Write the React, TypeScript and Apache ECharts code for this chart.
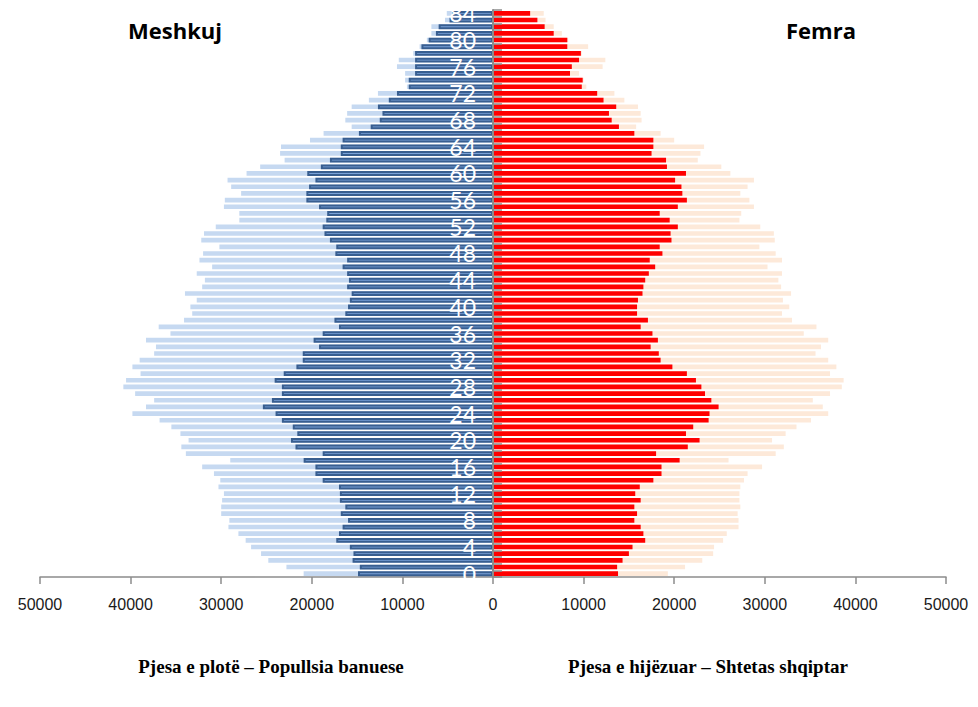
import React, { useEffect, useRef } from "react";
import * as echarts from "echarts";

const ages: string[] = Array.from({ length: 85 }, (_, i) => String(i));

const maleResident = [
  14900, 14700, 15500, 15400, 15800, 17300, 17000, 16600, 16000, 16800,
  16300, 16900, 16900, 17000, 18800, 19600, 19600, 20900, 18800, 21800,
  22300, 21600, 22100, 23300, 24000, 25400, 24400, 23300, 23300, 24100,
  23100, 21700, 21000, 21000, 19200, 19800, 18800, 17000, 17500, 16300,
  16000, 15800, 15600, 16100, 15900, 16100, 16600, 16100, 17400, 17300,
  18000, 18600, 18800, 18400, 18300, 19200, 20600, 20600, 20300, 19600,
  20500, 19000, 18000, 16800, 16800, 16600, 14800, 13500, 12500, 12200,
  12700, 11500, 10600, 9300, 9300, 8600, 8600, 8600, 8600, 7900,
  7100, 6300, 6000, 4800, 4500,
];

const maleCitizens = [
  20900, 22800, 24800, 25600, 26700, 27300, 28100, 29200, 29100, 30000,
  30000, 29900, 29700, 30300, 30100, 30800, 32100, 29000, 33900, 34400,
  33600, 34500, 35500, 36800, 39800, 38300, 37400, 39500, 40800, 40500,
  38900, 39800, 39000, 37400, 37200, 38300, 35600, 36900, 34100, 33200,
  33400, 32700, 34000, 32100, 31800, 32700, 31000, 32400, 32000, 30200,
  32200, 31900, 30600, 28000, 28000, 29700, 29600, 27800, 28900, 29300,
  27200, 25700, 23000, 23500, 23400, 20200, 18700, 15600, 16300, 16100,
  15600, 13700, 12700, 9500, 9700, 9700, 10600, 10400, 8800, 8100,
  7300, 6800, 6800, 5300, 5100,
];

const femaleResident = [
  13800, 13700, 14300, 15000, 15400, 16800, 16600, 16300, 15600, 15900,
  15600, 16300, 15700, 16200, 17700, 18600, 18600, 20600, 18000, 21500,
  22800, 21300, 22100, 23800, 23900, 24900, 24100, 23400, 23000, 22400,
  21400, 19800, 18500, 18300, 17400, 18200, 17600, 16300, 17100, 15900,
  15900, 16000, 16500, 16600, 16800, 17200, 17900, 17300, 18700, 18400,
  19700, 19600, 20400, 19500, 18400, 20400, 21400, 20900, 20800, 20100,
  21300, 19200, 19100, 17500, 17700, 17700, 15600, 13900, 13100, 12800,
  13600, 12200, 11500, 9800, 9900, 8500, 8700, 9500, 9700, 8200,
  8200, 6700, 5700, 4900, 4100,
];

const femaleCitizens = [
  19300, 21200, 23100, 24300, 24400, 25400, 25800, 27100, 27100, 27000,
  27300, 27200, 27200, 27300, 27700, 28100, 29700, 26000, 31200, 32100,
  30800, 32300, 33500, 35100, 37000, 36400, 35300, 37200, 38500, 38700,
  37200, 37900, 37000, 35600, 36200, 37000, 34300, 35700, 33000, 31900,
  32700, 32000, 32900, 31800, 31500, 31900, 30300, 31900, 31200, 29400,
  31100, 31000, 29500, 27200, 27400, 28800, 28300, 27300, 28100, 28800,
  26200, 25200, 22600, 22900, 23300, 20000, 18500, 15800, 16400, 16300,
  16000, 14500, 13400, 10300, 10000, 9500, 12100, 12400, 9800, 10500,
  8300, 7600, 6700, 5800, 5600,
];

const titleLeft = "Meshkuj";
const titleRight = "Femra";
const captionLeft = "Pjesa e plotë – Popullsia banuese";
const captionRight = "Pjesa e hijëzuar – Shtetas shqiptar";

const W = 978;
const H = 707;
const GRID_LEFT = 40;
const GRID_RIGHT = 32;

export default function App() {
  const ref = useRef<HTMLDivElement>(null);
  useEffect(() => {
    document.body.style.margin = "0";
    if (!ref.current) return;
    const chart = echarts.init(ref.current, null, { renderer: "svg" });
    const neg = (a: number[]) => a.map((v) => -v);
    const plotW = W - GRID_LEFT - GRID_RIGHT;
    chart.setOption({
      animation: false,
      grid: { left: GRID_LEFT, right: GRID_RIGHT, top: 10, bottom: 130, containLabel: false },
      xAxis: {
        type: "value",
        min: -50000,
        max: 50000,
        interval: 10000,
        splitLine: { show: false },
        axisLine: { show: true, lineStyle: { color: "#8c8c8c", width: 1.5 } },
        axisTick: { show: true, length: 7, lineStyle: { color: "#8c8c8c", width: 1.5 } },
        axisLabel: {
          formatter: (v: number) => String(Math.abs(v)),
          color: "#1a1a1a",
          fontSize: 16,
          fontFamily: "Liberation Sans",
          margin: 19,
        },
      },
      yAxis: {
        type: "category",
        data: ages,
        position: "left",
        offset: -plotW / 2,
        z: 10,
        axisLine: { show: true, onZero: false, lineStyle: { color: "#8c8c8c", width: 2 } },
        axisTick: {
          show: true,
          inside: true,
          length: 9,
          interval: 0,
          lineStyle: { color: "#8c8c8c", width: 1.5 },
        },
        axisLabel: {
          show: true,
          interval: 3,
          color: "#ffffff",
          fontSize: 23,
          fontFamily: "Lato",
          margin: 17,
          hideOverlap: false,
        },
        splitLine: { show: false },
      },
      series: [
        {
          name: "Shtetas shqiptar M",
          type: "bar",
          data: neg(maleCitizens),
          barWidth: "70%",
          barGap: "-100%",
          itemStyle: { color: "#c6d9f1" },
        },
        {
          name: "Shtetas shqiptar F",
          type: "bar",
          data: femaleCitizens,
          barWidth: "70%",
          barGap: "-100%",
          itemStyle: { color: "#fde9d9" },
        },
        {
          name: "Popullsia banuese M",
          type: "bar",
          data: neg(maleResident),
          barWidth: "72%",
          barGap: "-100%",
          itemStyle: { color: "#7aa2d8", borderColor: "#385e90", borderWidth: 2 },
        },
        {
          name: "Popullsia banuese F",
          type: "bar",
          data: femaleResident,
          barWidth: "70%",
          barGap: "-100%",
          itemStyle: { color: "#ff0000" },
        },
      ],
      graphic: [
        {
          type: "text",
          x: 175,
          y: 30,
          style: {
            text: titleLeft,
            fill: "#000",
            font: "bold 22px 'Open Sans'",
            textAlign: "center",
            textVerticalAlign: "middle",
          },
        },
        {
          type: "text",
          x: 821,
          y: 30,
          style: {
            text: titleRight,
            fill: "#000",
            font: "bold 22px 'Open Sans'",
            textAlign: "center",
            textVerticalAlign: "middle",
          },
        },
        {
          type: "text",
          x: 271,
          y: 666,
          style: {
            text: captionLeft,
            fill: "#000",
            font: "bold 19px 'Liberation Serif'",
            textAlign: "center",
            textVerticalAlign: "middle",
          },
        },
        {
          type: "text",
          x: 708,
          y: 666,
          style: {
            text: captionRight,
            fill: "#000",
            font: "bold 19px 'Liberation Serif'",
            textAlign: "center",
            textVerticalAlign: "middle",
          },
        },
      ],
    });
    return () => chart.dispose();
  }, []);
  return <div ref={ref} style={{ width: W, height: H }} />;
}
